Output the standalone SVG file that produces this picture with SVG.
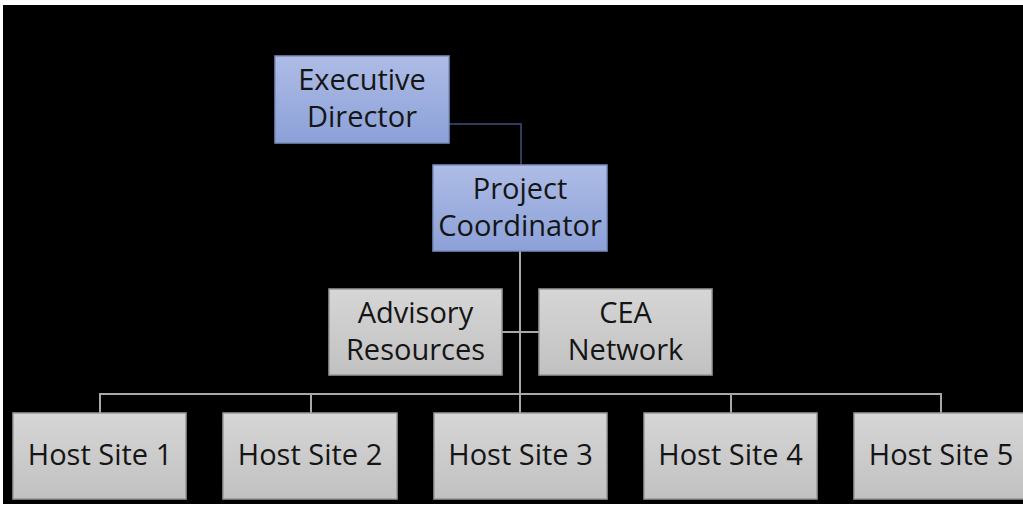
<svg xmlns="http://www.w3.org/2000/svg" width="1023" height="506" viewBox="0 0 1023 506">
<defs>
<linearGradient id="gBlue" x1="0" y1="0" x2="0" y2="1">
<stop offset="0" stop-color="#aebce6"/>
<stop offset="1" stop-color="#8ca1d8"/>
</linearGradient>
<linearGradient id="gGray" x1="0" y1="0" x2="0" y2="1">
<stop offset="0" stop-color="#d6d6d6"/>
<stop offset="1" stop-color="#c1c1c1"/>
</linearGradient>
</defs>
<style>
.blue{fill:url(#gBlue);stroke:#7d8fbf;stroke-width:1.5}
.gray{fill:url(#gGray);stroke:#9a9a9a;stroke-width:1.5}
.t{font-family:"Open Sans","Liberation Sans",sans-serif;font-size:29px;fill:#151515;text-anchor:middle}
.c{fill:none;stroke:#a8a8a8;stroke-width:2}
.cb{fill:none;stroke:#2b3d58;stroke-width:2}
</style>
<rect x="0" y="0" width="1023" height="506" fill="#ffffff"/>
<rect x="3" y="5" width="1020" height="499" fill="#000000"/>
<g id="connectors">
<path class="cb" d="M449 124 H521 V165"/>
<path class="c" d="M520 251 V394"/>
<path class="c" d="M502 332 H539"/>
<path class="c" d="M100 413 V394 H941 V413"/>
<path class="c" d="M311 394 V413"/>
<path class="c" d="M520 394 V413"/>
<path class="c" d="M731 394 V413"/>
</g>
<g id="executive-director">
<rect class="blue" x="275" y="56" width="174" height="87"/>
<text class="t" x="362" y="90">Executive</text>
<text class="t" x="362" y="127">Director</text>
</g>
<g id="project-coordinator">
<rect class="blue" x="433" y="165" width="174" height="86"/>
<text class="t" x="520" y="199">Project</text>
<text class="t" x="520" y="236">Coordinator</text>
</g>
<g id="advisory-resources">
<rect class="gray" x="329" y="289" width="173" height="86"/>
<text class="t" x="415.5" y="323">Advisory</text>
<text class="t" x="415.5" y="360">Resources</text>
</g>
<g id="cea-network">
<rect class="gray" x="539" y="289" width="173" height="86"/>
<text class="t" x="625.5" y="323">CEA</text>
<text class="t" x="625.5" y="360">Network</text>
</g>
<g id="host-site-1">
<rect class="gray" x="13" y="413" width="173" height="86"/>
<text class="t" x="100" y="465">Host Site 1</text>
</g>
<g id="host-site-2">
<rect class="gray" x="223" y="413" width="174" height="86"/>
<text class="t" x="310" y="465">Host Site 2</text>
</g>
<g id="host-site-3">
<rect class="gray" x="434" y="413" width="173" height="86"/>
<text class="t" x="520.5" y="465">Host Site 3</text>
</g>
<g id="host-site-4">
<rect class="gray" x="644" y="413" width="173" height="86"/>
<text class="t" x="730.5" y="465">Host Site 4</text>
</g>
<g id="host-site-5">
<rect class="gray" x="854" y="413" width="174" height="86"/>
<text class="t" x="941" y="465">Host Site 5</text>
</g>
</svg>
